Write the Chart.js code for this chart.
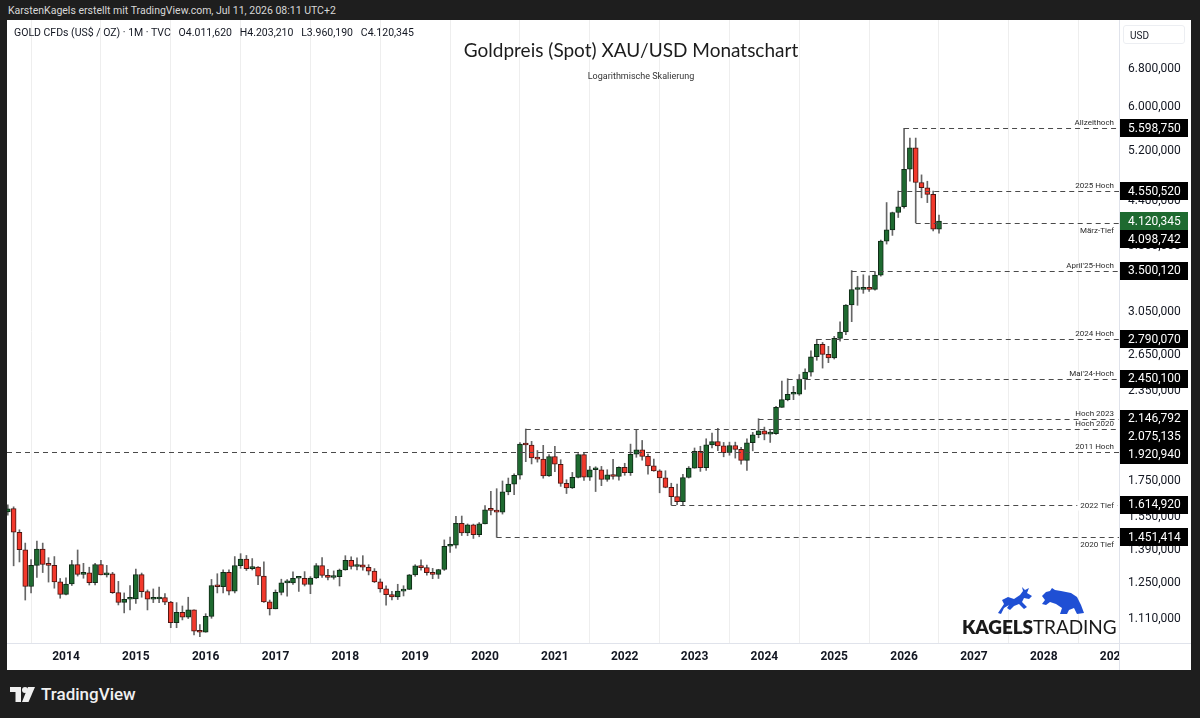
<!DOCTYPE html>
<html>
<head>
<meta charset="utf-8">
<script src="https://cdn.jsdelivr.net/npm/chart.js@4.4.1/dist/chart.umd.min.js"></script>
<style>
    body { margin: 0; width: 1200px; height: 718px; background: #1e1e1e; overflow: hidden; position: relative; font-family: Roboto, 'DejaVu Sans', sans-serif; }
    #topbar { position: absolute; left: 8px; top: 4px; color: #d8d8d8; font-size: 10.5px; }
    #panel { position: absolute; left: 7px; top: 20px; width: 1184px; height: 650px; background: #fff; }
    #chart { position: absolute; left: 0; top: 0; }
    #legend { position: absolute; left: 7px; top: 6px; font-size: 10.5px; color: #131722; white-space: pre; }
    #title { position: absolute; left: 0; width: 1248px; top: 18px; text-align: center; font-family: Lato, sans-serif; font-size: 19px; color: #1c1c1c; }
    #subtitle { position: absolute; left: 0; width: 1268px; top: 51px; text-align: center; font-size: 9px; color: #333; }
    #usd { position: absolute; left: 1116px; top: 5px; width: 62px; height: 19px; border: 1px solid #eceef2; border-radius: 3px; font-size: 10px; line-height: 19px; padding-left: 6px; box-sizing: border-box; color: #131722; }
    #brand { position: absolute; left: 955px; top: 595px; font-family: Lato, sans-serif; font-size: 19px; color: #1a1a1a; letter-spacing: -0.1px; }
    #brand b { font-weight: 800; }
    #bull { position: absolute; left: 989px; top: 567px; }
    #bear { position: absolute; left: 1033px; top: 567px; }
    #tvlogo { position: absolute; left: 10px; top: 684px; color: #f0f0f0; font-size: 17px; font-weight: 500; display: flex; align-items: center; gap: 5px; }
</style>
</head>
<body>
<div id="topbar">KarstenKagels erstellt mit TradingView.com, Jul 11, 2026 08:11 UTC+2</div>
<div id="panel">
    <canvas id="chart" width="1184" height="650"></canvas>
    <div id="legend">GOLD CFDs (US$ / OZ) · 1M · TVC   O4.011,620   H4.203,210   L3.960,190   C4.120,345</div>
    <div id="title">Goldpreis (Spot) XAU/USD Monatschart</div>
    <div id="subtitle">Logarithmische Skalierung</div>
    <div id="usd">USD</div>
    <svg id="bull" width="40" height="28" viewBox="0 0 40 28"><path fill="#1f4fd4" d="M2 26 L8 17 L6 13 L12 10 L18 12 L24 8 L27 4 L26 0 L29 3 L33 1 L31 6 L36 9 L33 12 L28 11 L26 15 L31 20 L28 22 L23 17 L18 19 L14 23 L11 21 L13 18 L8 21 L5 27 Z"/></svg>
    <svg id="bear" width="46" height="28" viewBox="0 0 46 28"><path fill="#1f4fd4" d="M2 9 L6 5 L10 4 L12 1 L15 3 L21 4 L31 6 L37 10 L41 18 L44 26 L37 27 L34 21 L29 23 L27 27 L20 27 L22 21 L16 17 L10 15 L6 18 L2 17 L5 13 Z"/></svg>
    <div id="brand"><b>KAGELS</b>TRADING</div>
</div>
<div id="tvlogo">
    <svg width="26" height="15" viewBox="0 0 26 15"><path fill="#f0f0f0" d="M0 0 H11 V15 H5.5 V5 H0 Z"/><circle cx="15" cy="3" r="3" fill="#f0f0f0"/><path fill="#f0f0f0" d="M12 15 L18 0 H25 L18.5 15 Z"/></svg>
    <span>TradingView</span>
</div>

<script>
// monthly candles, starting March 2013
const firstMonth = '2013-03';
const openVals = [
    1578, 1596, 1476, 1393, 1234, 1323, 1396, 1327, 1323, 1253,                  // 2013
    1202, 1244, 1326, 1284, 1291, 1250, 1327, 1282, 1287, 1209, 1171, 1183,      // 2014
    1184, 1283, 1213, 1183, 1184, 1190, 1172, 1095, 1133, 1115, 1142, 1065,      // 2015
    1061, 1118, 1238, 1233, 1293, 1215, 1322, 1351, 1309, 1316, 1277, 1173,      // 2016
    1146, 1210, 1249, 1249, 1268, 1268, 1242, 1269, 1322, 1280, 1271, 1275,      // 2017
    1303, 1345, 1318, 1325, 1315, 1298, 1253, 1224, 1201, 1192, 1215, 1222,      // 2018
    1282, 1321, 1313, 1292, 1284, 1305, 1409, 1414, 1520, 1472, 1513, 1464,      // 2019
    1517, 1589, 1586, 1577, 1686, 1730, 1781, 1975, 1968, 1886, 1879, 1777,      // 2020
    1895, 1847, 1734, 1708, 1769, 1907, 1770, 1814, 1814, 1757, 1783, 1774,      // 2021
    1829, 1796, 1909, 1937, 1896, 1837, 1807, 1766, 1711, 1660, 1633, 1768,      // 2022
    1824, 1928, 1827, 1969, 1990, 1963, 1919, 1965, 1940, 1871, 1983, 2036,      // 2023
    2063, 2040, 2044, 2229, 2286, 2327, 2327, 2447, 2503, 2634, 2744, 2654,      // 2024
    2624, 2798, 2858, 3124, 3288, 3289, 3303, 3290, 3448, 3858, 4003, 4239,      // 2025
    4320, 4890, 5250, 4680, 4600, 4500, 4011.62                                  // 2026
];
const highVals = [
    1616, 1605, 1488, 1424, 1348, 1434, 1424, 1357, 1362, 1267,
    1270, 1345, 1392, 1332, 1315, 1332, 1345, 1323, 1293, 1255, 1208, 1238,
    1307, 1290, 1220, 1224, 1232, 1205, 1175, 1170, 1157, 1191, 1142, 1088,
    1128, 1263, 1287, 1304, 1304, 1362, 1375, 1367, 1353, 1318, 1338, 1180,
    1220, 1264, 1262, 1295, 1270, 1296, 1275, 1331, 1357, 1306, 1299, 1307,
    1366, 1361, 1356, 1366, 1326, 1309, 1265, 1237, 1214, 1243, 1237, 1284,
    1326, 1347, 1324, 1310, 1306, 1439, 1453, 1555, 1557, 1517, 1516, 1524,
    1611, 1689, 1704, 1748, 1765, 1789, 1984, 2075.135, 1992, 1933, 1966, 1907,
    1959, 1875, 1755, 1798, 1913, 1916, 1834, 1832, 1834, 1814, 1877, 1831,
    1853, 1974, 2070, 1998, 1910, 1879, 1814, 1808, 1735, 1730, 1786, 1833,
    1949, 1960, 2009, 2048, 2079, 1985, 1987, 1987, 1953, 2009, 2052, 2146.792,
    2088, 2065, 2236, 2431, 2450.1, 2388, 2483, 2531, 2685, 2790.07, 2761, 2726,
    2817, 2956, 3128, 3500.12, 3435, 3452, 3439, 3489, 3871, 4381, 4245, 4550.52,
    5598.75, 5420, 5420, 4800, 4700, 4550, 4203.21
];
const lowVals = [
    1562, 1321, 1338, 1180, 1208, 1271, 1292, 1252, 1227, 1187,
    1200, 1238, 1277, 1268, 1240, 1240, 1282, 1273, 1206, 1161, 1131, 1142,
    1167, 1191, 1142, 1170, 1170, 1162, 1077, 1077, 1105, 1110, 1052, 1046,
    1061, 1111, 1208, 1208, 1200, 1208, 1310, 1301, 1303, 1241, 1171, 1123,
    1146, 1200, 1195, 1242, 1214, 1236, 1205, 1267, 1271, 1261, 1264, 1236,
    1302, 1307, 1303, 1302, 1282, 1250, 1211, 1160, 1180, 1182, 1196, 1221,
    1276, 1302, 1281, 1266, 1267, 1301, 1381, 1400, 1460, 1459, 1446, 1454,
    1517, 1563, 1451.414, 1567, 1670, 1671, 1758, 1863, 1849, 1860, 1764, 1775,
    1803, 1717, 1677, 1705, 1766, 1751, 1751, 1688, 1721, 1746, 1759, 1753,
    1781, 1780, 1890, 1872, 1787, 1805, 1681, 1709, 1614.92, 1617, 1616, 1765,
    1823, 1804, 1810, 1949, 1932, 1893, 1903, 1885, 1848, 1810, 1931, 2016,
    2002, 1985, 2039, 2228, 2277, 2286, 2319, 2364, 2471, 2603, 2537, 2583,
    2614, 2772, 2833, 2957, 3121, 3247, 3268, 3281, 3436, 3820, 3931, 4170,
    4300, 4700, 4098.742, 4450, 4380, 3990, 3960.19
];
const closeVals = [
    1595, 1476, 1393, 1234, 1323, 1396, 1327, 1323, 1253, 1202,
    1244, 1326, 1284, 1291, 1250, 1327, 1282, 1287, 1209, 1171, 1183, 1184,
    1283, 1213, 1183, 1184, 1190, 1172, 1095, 1133, 1115, 1142, 1065, 1061,
    1118, 1238, 1233, 1293, 1215, 1322, 1351, 1309, 1316, 1277, 1173, 1146,
    1210, 1249, 1249, 1268, 1268, 1242, 1269, 1322, 1280, 1271, 1275, 1303,
    1345, 1318, 1325, 1315, 1298, 1253, 1224, 1201, 1192, 1215, 1222, 1282,
    1321, 1313, 1292, 1284, 1305, 1409, 1414, 1520, 1472, 1513, 1464, 1517,
    1589, 1586, 1577, 1686, 1730, 1781, 1975, 1968, 1886, 1879, 1777, 1895,
    1847, 1734, 1708, 1769, 1907, 1770, 1814, 1814, 1757, 1783, 1774, 1829,
    1796, 1909, 1937, 1896, 1837, 1807, 1766, 1711, 1660, 1633, 1768, 1824,
    1928, 1827, 1969, 1990, 1963, 1919, 1965, 1940, 1871, 1983, 2036, 2063,
    2040, 2044, 2229, 2286, 2327, 2327, 2447, 2503, 2634, 2744, 2654, 2624,
    2798, 2858, 3124, 3288, 3289, 3303, 3290, 3448, 3858, 4003, 4239, 4320,
    4890, 5250, 4680, 4600, 4500, 4011.62, 4120.345
];

// marked price levels
const levelNames = ['Allzeithoch', '2025 Hoch', 'März-Tief', "April'25-Hoch", '2024 Hoch', "Mai'24-Hoch",
    'Hoch 2023', 'Hoch 2020', '2011 Hoch', '2022 Tief', '2020 Tief'];
const levelValues = [5598.75, 4550.52, 4098.742, 3500.12, 2790.07, 2450.1, 2146.792, 2075.135, 1920.94, 1614.92, 1451.414];
const levelStart = ['2026-01', '2025-12', '2026-03', '2025-04', '2024-10', '2024-05', '2023-12', '2020-08', '2011-09', '2022-09', '2020-03'];
const lastPrice = 4120.345;

const yTickValues = [1110, 1250, 1390, 1550, 1750, 2050, 2350, 2650, 3050, 3800, 4400, 5200, 6000, 6800];
const axisYears = [2014, 2015, 2016, 2017, 2018, 2019, 2020, 2021, 2022, 2023, 2024, 2025, 2026, 2027, 2028, 2029];

// where each level caption sits relative to its line
const captionPos = ['above', 'above', 'below', 'above', 'above', 'above', 'above', 'above', 'above', 'inline', 'below'];

function monthIndex(s) {
    const [yy, mm] = s.split('-').map(Number);
    return (yy - 2013) * 12 + (mm - 1);
}

function fmt(v) {
    return v.toLocaleString('de-DE', { minimumFractionDigits: 3, maximumFractionDigits: 3 });
}

const startIdx = monthIndex(firstMonth);
const candleMonths = openVals.map((_, i) => startIdx + i);
const isUp = closeVals.map((c, i) => c >= openVals[i]);

const GREEN = '#1e6a30';
const RED = '#f2392c';

const levelPlugin = {
    id: 'levels',
    afterDatasetsDraw(chart) {
        const { ctx, chartArea, scales: { x, y } } = chart;
        ctx.save();
        ctx.font = '8px Roboto, sans-serif';
        levelValues.forEach((v, i) => {
            const py = Math.round(y.getPixelForValue(v)) + 0.5;
            const px = Math.max(chartArea.left, x.getPixelForValue(monthIndex(levelStart[i])));
            ctx.setLineDash([5, 4]);
            ctx.strokeStyle = '#4a4a4a';
            ctx.lineWidth = 1;
            ctx.beginPath();
            ctx.moveTo(px, py);
            ctx.lineTo(chartArea.right, py);
            ctx.stroke();
            ctx.setLineDash([]);
            ctx.fillStyle = '#2b2b2b';
            ctx.textAlign = 'right';
            const tx = chartArea.right - 5;
            if (captionPos[i] === 'above') {
                ctx.textBaseline = 'bottom';
                ctx.fillText(levelNames[i], tx, py - 2);
            } else if (captionPos[i] === 'below') {
                ctx.textBaseline = 'top';
                ctx.fillText(levelNames[i], tx, py + 3);
            } else {
                const w = ctx.measureText(levelNames[i]).width;
                ctx.fillStyle = '#fff';
                ctx.fillRect(tx - w - 3, py - 5, w + 6, 10);
                ctx.fillStyle = '#2b2b2b';
                ctx.textBaseline = 'middle';
                ctx.fillText(levelNames[i], tx, py);
            }
        });
        ctx.restore();
    },
    afterDraw(chart) {
        const { ctx, chartArea, scales: { y } } = chart;
        const W = chart.width, H = chart.height;
        ctx.save();
        // hide the part of the last year label that runs into the price scale
        ctx.fillStyle = '#fff';
        ctx.fillRect(chartArea.right + 1, chartArea.bottom + 1, W - chartArea.right, H - chartArea.bottom);
        ctx.strokeStyle = '#e0e3eb';
        ctx.lineWidth = 1;
        ctx.beginPath();
        ctx.moveTo(0, chartArea.bottom + 0.5);
        ctx.lineTo(W, chartArea.bottom + 0.5);
        ctx.moveTo(chartArea.right + 0.5, 0);
        ctx.lineTo(chartArea.right + 0.5, H);
        ctx.stroke();

        // price boxes on the right scale, pushed down when they overlap
        const boxes = levelValues.map(v => ({ v, color: '#000' }));
        boxes.push({ v: lastPrice, color: GREEN });
        boxes.forEach(b => b.py = y.getPixelForValue(b.v));
        boxes.sort((a, b) => a.py - b.py);
        const bh = 18;
        let prev = -100;
        boxes.forEach(b => {
            if (b.py < prev + bh) b.py = prev + bh;
            prev = b.py;
        });
        ctx.font = '12px Roboto, sans-serif';
        ctx.textBaseline = 'middle';
        ctx.textAlign = 'left';
        boxes.forEach(b => {
            ctx.fillStyle = b.color;
            ctx.fillRect(chartArea.right + 1, Math.round(b.py - bh / 2), 68, bh);
            ctx.fillStyle = '#fff';
            ctx.fillText(fmt(b.v), chartArea.right + 9, b.py + 0.5);
        });
        ctx.restore();
    }
};

const ctx = document.getElementById('chart').getContext('2d');
new Chart(ctx, {
    type: 'bar',
    data: {
        datasets: [
            {
                label: 'Docht',
                data: candleMonths.map((m, i) => ({ x: m, y: [lowVals[i], highVals[i]] })),
                backgroundColor: '#666666',
                barThickness: 1,
                grouped: false,
                order: 2
            },
            {
                label: 'Körper',
                data: candleMonths.map((m, i) => ({ x: m, y: [openVals[i], closeVals[i]] })),
                backgroundColor: isUp.map(u => u ? GREEN : RED),
                borderColor: isUp.map(u => u ? '#0f2a16' : '#4a1612'),
                borderWidth: 1,
                borderSkipped: false,
                barThickness: 5,
                minBarLength: 2,
                grouped: false,
                order: 1
            }
        ]
    },
    options: {
        responsive: false,
        animation: false,
        layout: { padding: 0 },
        plugins: { legend: { display: false }, tooltip: { enabled: false } },
        scales: {
            x: {
                type: 'linear',
                min: 1.863,
                max: 192.93,
                offset: false,
                grid: { color: '#eeeeee', drawTicks: false },
                border: { display: false },
                afterBuildTicks: s => { s.ticks = axisYears.map(yr => ({ value: (yr - 2013) * 12 })); },
                afterFit: s => { s.height = 27; s.paddingLeft = 0; s.paddingRight = 0; },
                ticks: {
                    callback: v => String(2013 + v / 12),
                    color: '#131722',
                    font: { family: 'Roboto', size: 12, weight: 'bold' },
                    padding: 7,
                    maxRotation: 0,
                    autoSkip: false
                }
            },
            y: {
                type: 'logarithmic',
                position: 'right',
                min: 1024,
                max: 8002,
                grid: { display: false, drawTicks: false },
                border: { display: false },
                afterBuildTicks: s => { s.ticks = yTickValues.map(v => ({ value: v })); },
                afterFit: s => { s.width = 72; s.paddingTop = 0; s.paddingBottom = 0; },
                ticks: {
                    callback: v => fmt(v),
                    color: '#131722',
                    font: { family: 'Roboto', size: 12 },
                    padding: 9
                }
            }
        }
    },
    plugins: [levelPlugin]
});
</script>
</body>
</html>
